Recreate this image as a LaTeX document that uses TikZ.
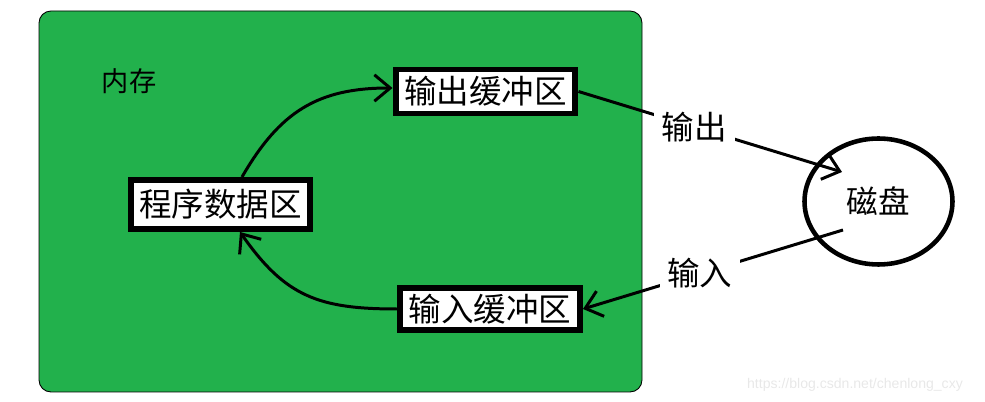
\documentclass[tikz,border=0pt]{standalone}
\usepackage{fontspec}
\setmainfont{Noto Sans CJK SC}
\newfontfamily\wmfont{Liberation Sans}
\usepackage{xcolor}
\usepackage{tikz}
\usetikzlibrary{positioning,calc,arrows.meta,shapes.geometric}
\definecolor{memgreen}{HTML}{22B14C}

\begin{document}
\begin{tikzpicture}[x=0.02cm,y=0.02cm,
box/.style={draw,rectangle,fill=white,line width=3.4pt,minimum width=3.6cm,minimum height=0.88cm,inner sep=0pt,font=\fontsize{18.5}{22}\selectfont},
lbl/.style={fill=white,inner xsep=4.5pt,inner ysep=3pt,font=\fontsize{18.5}{22}\selectfont},
conn/.style={line width=1.7pt,-{Straight Barb[length=9pt,width=15pt]}}]
\useasboundingbox (0,0) rectangle (985,402);
\draw [fill=memgreen,line width=0.5pt,rounded corners=0.24cm] (39,10) rectangle (642,391);
\node (memlbl) [font=\fontsize{15.5}{18}\selectfont] at (129,321) {内存};
\node (outbuf) [box] at (485.5,310.5) {输出缓冲区};
\node (prog) [box,minimum width=3.58cm,minimum height=0.98cm] at (220.5,197.5) {程序数据区};
\node (inbuf) [box,minimum height=0.84cm] at (490,93) {输入缓冲区};
\node (disk) [draw,ellipse,line width=2.6pt,minimum width=2.96cm,minimum height=2.52cm,inner sep=0pt,
    font=\fontsize{18}{22}\selectfont] at (878.5,200.5) {磁盘};
\coordinate (outend) at ($(disk.center)+(-36.5,29.5)$);
\coordinate (instart) at ($(disk.center)+(-35.5,-28.5)$);
\draw [conn] ([xshift=0.43cm]prog.north) to[out=60,in=180,looseness=1.1] ([yshift=0.07cm]outbuf.west);
\draw [conn] (inbuf.west) to[out=180,in=-55,looseness=1.15] ([xshift=0.39cm]prog.south);
\draw [conn] (outbuf.east) -- node (outlbl) [lbl,pos=0.44] {输出} (outend);
\draw [conn] (instart) -- node (inlbl) [lbl,pos=0.55] {输入} (inbuf.east);
\node (mark) [font=\wmfont\fontsize{8}{10}\selectfont,text=black!9] at (855,17) {https://blog.csdn.net/chenlong\_cxy};
\end{tikzpicture}
\end{document}
